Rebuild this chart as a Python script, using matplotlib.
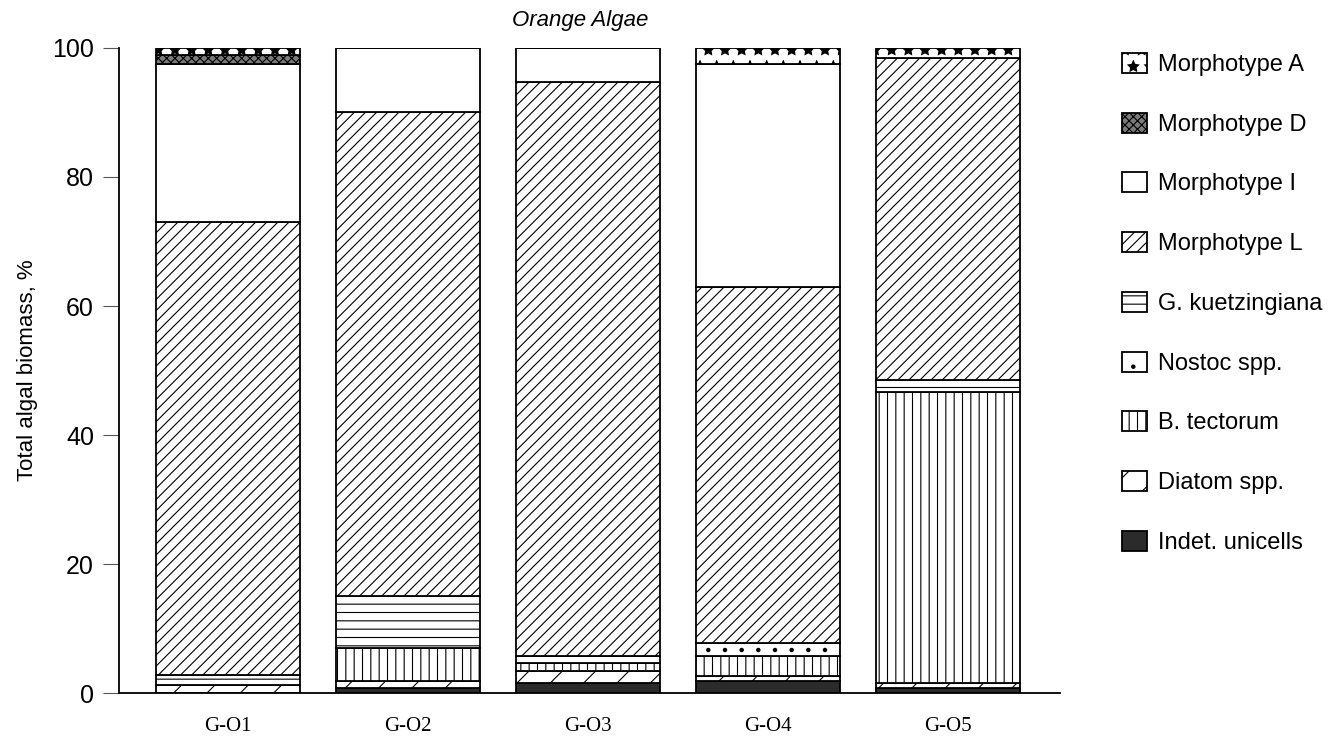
import matplotlib

matplotlib.use("Agg")
import matplotlib.pyplot as plt
import numpy as np

SITES = ["G-O1", "G-O2", "G-O3", "G-O4", "G-O5"]

# stacked from the bottom up, % of total algal biomass
INDET = [0.0, 0.8, 1.6, 1.9, 0.8]
DIATOM = [1.2, 1.0, 1.8, 0.7, 0.7]
B_TECTORUM = [0.0, 5.2, 1.2, 3.1, 45.2]
NOSTOC = [0.0, 0.0, 1.1, 2.0, 0.0]
G_KUETZ = [1.6, 8.0, 0.0, 0.0, 1.9]
MORPH_L = [70.2, 75.0, 89.1, 55.3, 49.9]
MORPH_I = [24.5, 10.0, 5.2, 34.5, 0.0]
MORPH_D = [1.4, 0.0, 0.0, 0.0, 0.0]
MORPH_A = [1.1, 0.0, 0.0, 2.5, 1.5]

SERIES = [
    ("Indet. unicells", INDET, "#2b2b2b", ""),
    ("Diatom spp.", DIATOM, "white", "/"),
    ("B. tectorum", B_TECTORUM, "white", "||"),
    ("Nostoc spp.", NOSTOC, "white", "."),
    ("G. kuetzingiana", G_KUETZ, "white", "--"),
    ("Morphotype L", MORPH_L, "white", "///"),
    ("Morphotype I", MORPH_I, "white", ""),
    ("Morphotype D", MORPH_D, "#7a7a7a", "xxxx"),
    ("Morphotype A", MORPH_A, "white", "*"),
]

plt.rcParams["font.family"] = ["Liberation Sans", "DejaVu Sans"]
plt.rcParams["hatch.linewidth"] = 0.8

fig = plt.figure(figsize=(13.35, 7.44), dpi=100)
ax = fig.add_axes([0.0891, 0.0685, 0.7050, 0.8670])

x = np.arange(len(SITES))
bottom = np.zeros(len(SITES))
handles = []
for label, vals, fc, hatch in SERIES:
    vals = np.array(vals)
    b = ax.bar(x, vals, width=0.8, bottom=bottom, color=fc, hatch=hatch,
               edgecolor="black", linewidth=1.3, label=label)
    handles.append(b)
    bottom += vals

ax.set_xlim(-0.603, 4.62)
ax.set_ylim(0, 100)
ax.set_yticks([0, 20, 40, 60, 80, 100])
ax.tick_params(axis="y", length=11.5, width=0.8, color="#555555",
               labelsize=18, pad=6.5)
ax.tick_params(axis="x", length=0, pad=17)
ax.set_xticks(x)
ax.set_xticklabels(SITES, family=["Liberation Serif", "DejaVu Serif"], fontsize=15)
for s in ("top", "right"):
    ax.spines[s].set_visible(False)
ax.spines["left"].set_linewidth(1.3)
ax.spines["bottom"].set_linewidth(1.3)

ax.set_ylabel("Total algal biomass, %", fontsize=16)
ax.yaxis.set_label_coords(-0.086, 0.5)
ax.set_title("Orange Algae", style="italic", fontsize=16, pad=16, x=0.49)

fig.legend(handles[::-1], [s[0] for s in SERIES][::-1],
           loc="upper left", bbox_to_anchor=(0.8315, 1 - 41 / 744),
           frameon=False, fontsize=17, borderpad=0,
           handlelength=1.06, handleheight=0.93,
           handletextpad=0.47, labelspacing=1.55)

fig.savefig("out.png", dpi=100)
